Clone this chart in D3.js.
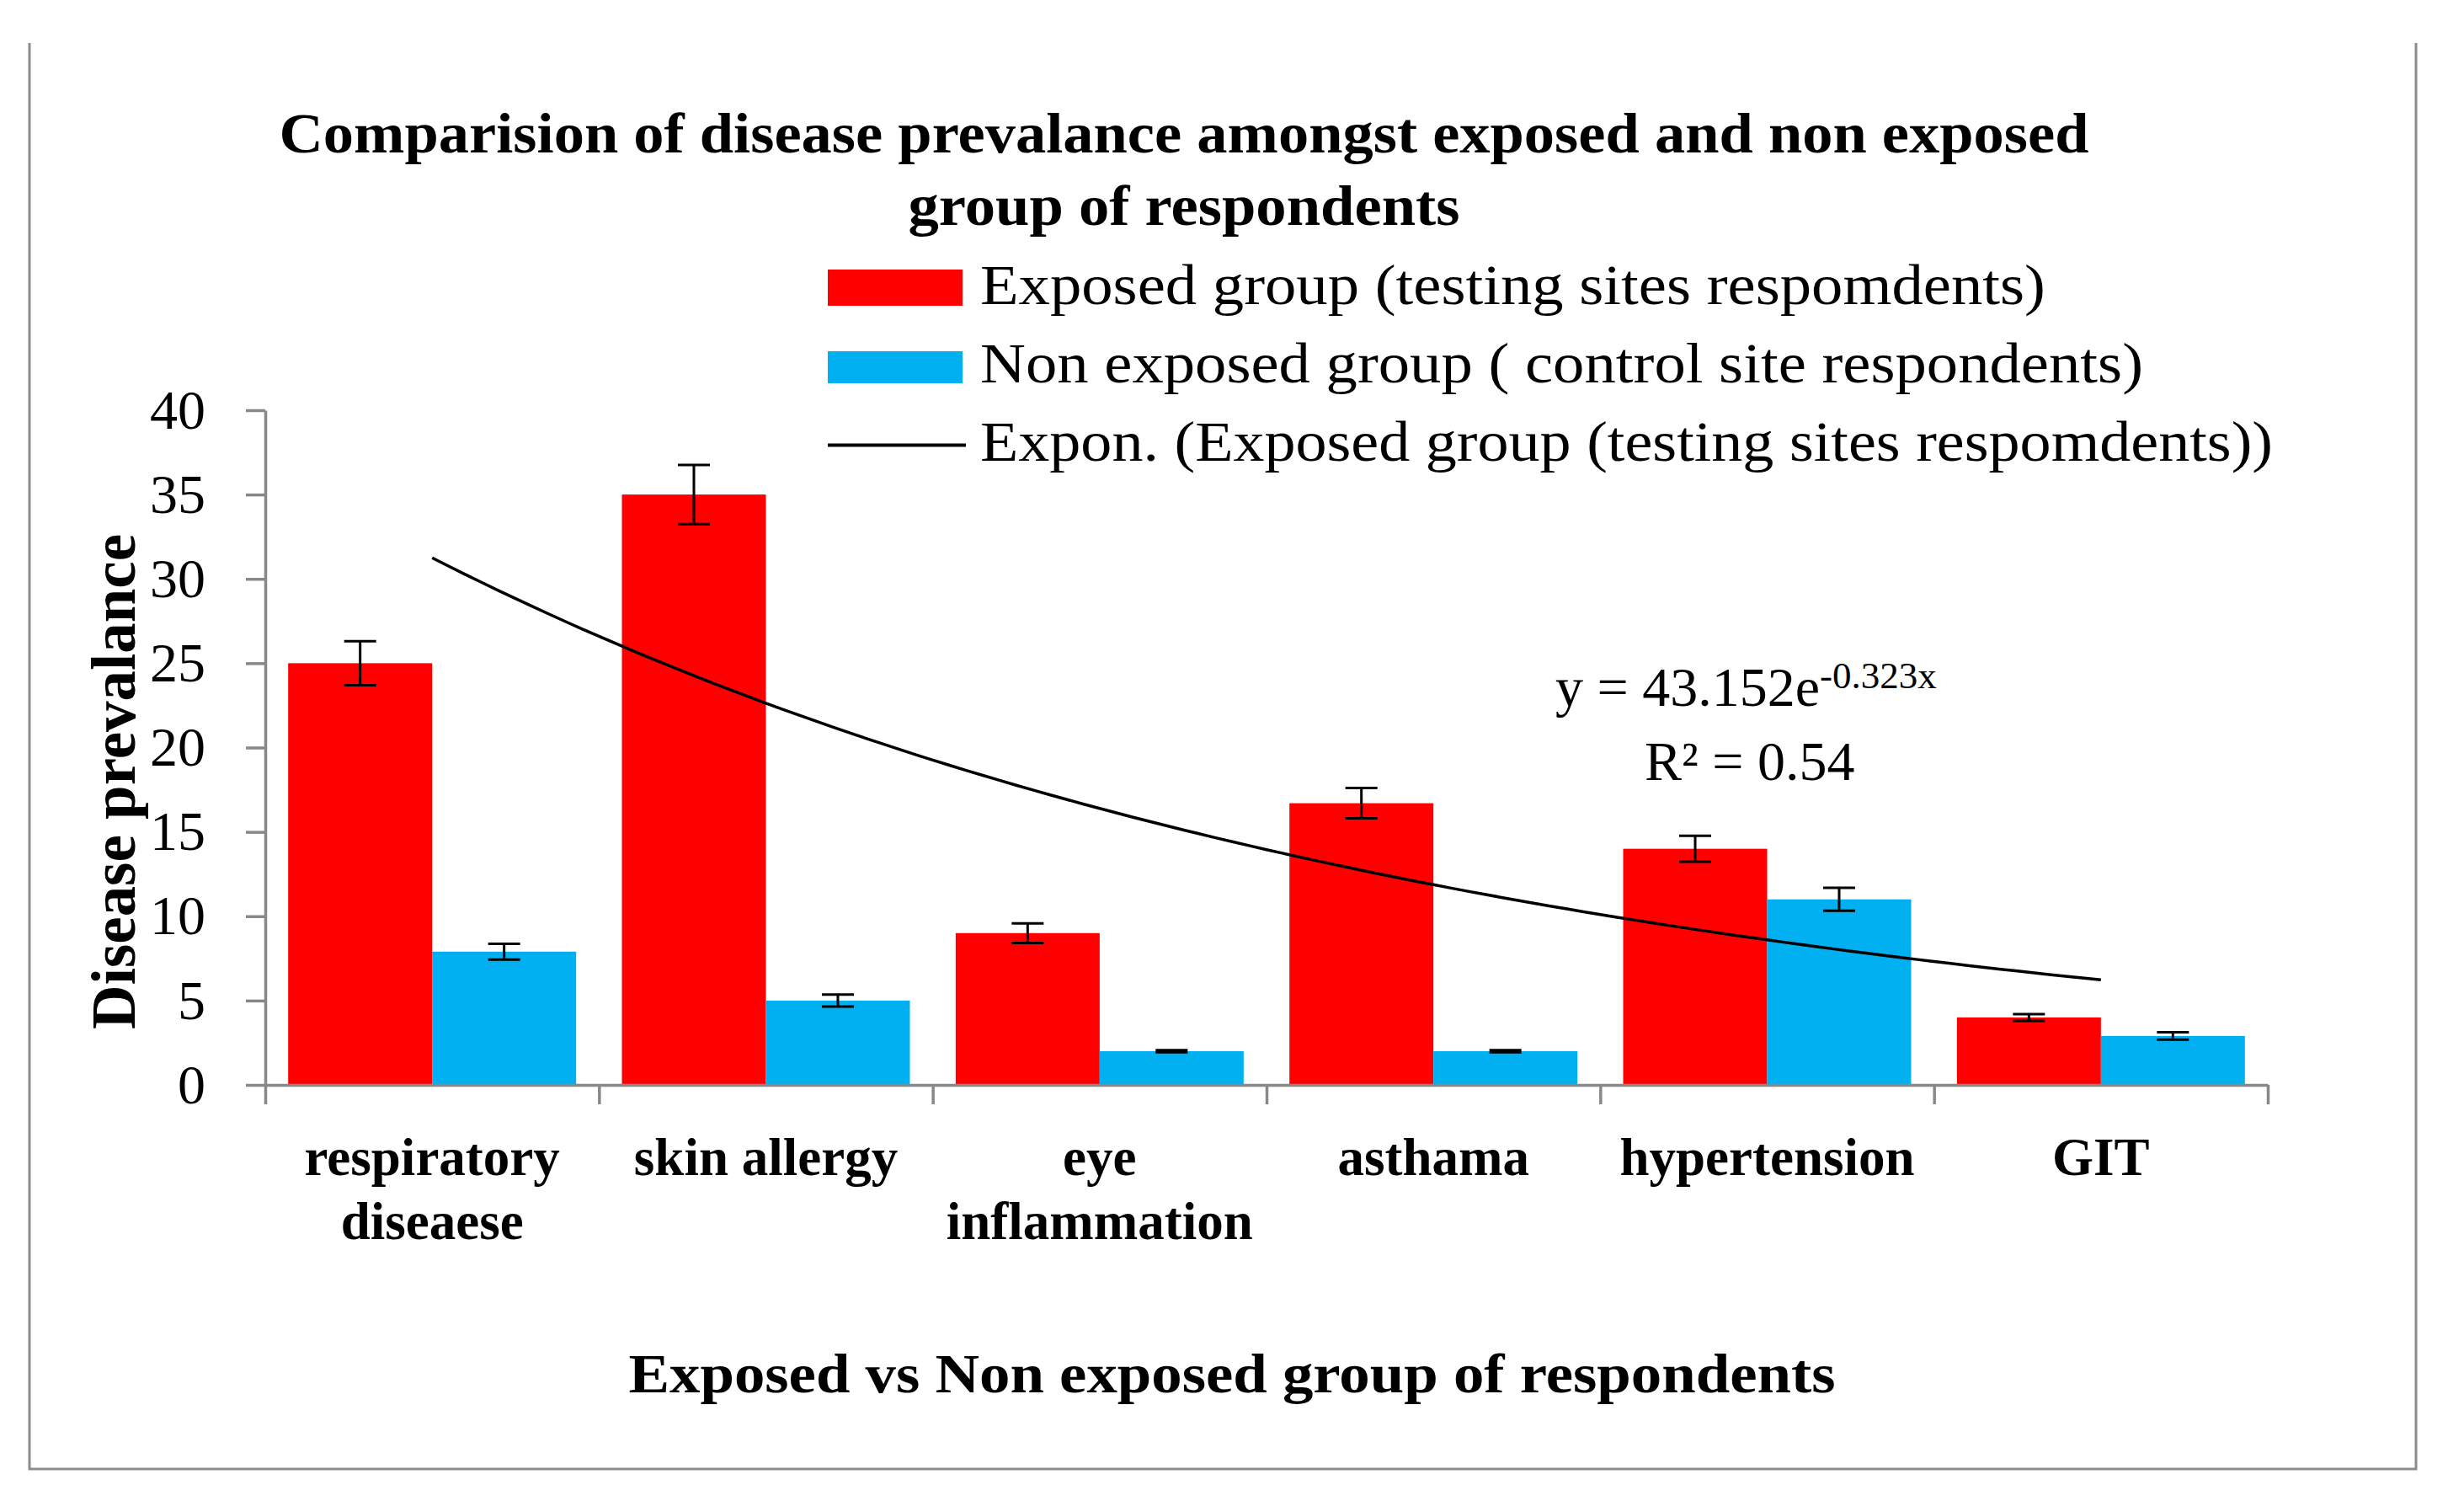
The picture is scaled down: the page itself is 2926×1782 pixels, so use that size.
<!DOCTYPE html>
<html>
<head>
<meta charset="utf-8">
<script src="https://cdn.jsdelivr.net/npm/d3@7"></script>
<style>
  body { margin: 0; background: #fff; }
  svg { display: block; }
</style>
</head>
<body>
<script>
// data
var categories = ["respiratory diseaese", "skin allergy", "eye inflammation", "asthama", "hypertension", "GIT"];
var categoryLines = [["respiratory", "diseaese"], ["skin allergy"], ["eye", "inflammation"], ["asthama"], ["hypertension"], ["GIT"]];
var exposed = [25, 35, 9, 16.7, 14, 4];
var exposedErr = [1.3, 1.75, 0.58, 0.9, 0.77, 0.2];
var nonExposed = [7.9, 5, 2, 2, 11, 2.9];
var nonExposedErr = [0.47, 0.36, 0.06, 0.06, 0.68, 0.22];
var yTicks = [0, 5, 10, 15, 20, 25, 30, 35, 40];

var seriesNames = ["Exposed group (testing sites respomdents)",
                   "Non exposed group ( control site respondents)",
                   "Expon. (Exposed group (testing sites respomdents))"];
var titleLines = ["Comparision of disease prevalance amongst exposed and non exposed",
                  "group of respondents"];
var xTitle = "Exposed vs Non exposed group of respondents";
var yTitle = "Disease prevalance";

var W = 2926, H = 1782;
var font = "'Liberation Serif', 'Times New Roman', serif";
var red = "#ff0000", blue = "#00b0f0", axisGrey = "#888888";

var svg = d3.select("body").append("svg")
    .attr("width", W)
    .attr("height", H)
    .style("font-family", font);

// outer frame (no top edge in the original)
svg.append("path")
    .attr("d", "M35,51V1744H2869V51")
    .attr("fill", "none")
    .attr("stroke", "#8c8c8c")
    .attr("stroke-width", 3);

var x = d3.scaleBand().domain(categories).range([315, 2693]);
var inner = d3.scaleBand().domain(["exp", "non"]).range([0, x.bandwidth()]).paddingOuter(0.159);
var y = d3.scaleLinear().domain([0, 40]).range([1288, 487]);

// title
svg.selectAll(".title").data(titleLines).enter().append("text")
    .attr("x", 1406)
    .attr("y", function(d, i) { return i === 0 ? 181 : 267; })
    .attr("text-anchor", "middle")
    .attr("font-weight", "bold")
    .attr("font-size", 68)
    .attr("textLength", function(d, i) { return i === 0 ? 2149 : 655; })
    .attr("lengthAdjust", "spacingAndGlyphs")
    .text(function(d) { return d; });

// bars
var groups = svg.selectAll(".cat").data(categories).enter().append("g")
    .attr("transform", function(d) { return "translate(" + x(d) + ",0)"; });

groups.append("rect")
    .attr("x", inner("exp"))
    .attr("width", inner.bandwidth())
    .attr("y", function(d, i) { return y(exposed[i]); })
    .attr("height", function(d, i) { return y(0) - y(exposed[i]); })
    .attr("fill", red);

groups.append("rect")
    .attr("x", inner("non"))
    .attr("width", inner.bandwidth())
    .attr("y", function(d, i) { return y(nonExposed[i]); })
    .attr("height", function(d, i) { return y(0) - y(nonExposed[i]); })
    .attr("fill", blue);

// error bars
function errorBar(sel, key, vals, errs) {
  var cx = inner(key) + inner.bandwidth() / 2, cap = 19;
  sel.append("path")
      .attr("d", function(d, i) {
        var top = y(vals[i] + errs[i]), bot = y(vals[i] - errs[i]);
        return "M" + (cx - cap) + "," + top + "H" + (cx + cap) +
               "M" + cx + "," + top + "V" + bot +
               "M" + (cx - cap) + "," + bot + "H" + (cx + cap);
      })
      .attr("fill", "none")
      .attr("stroke", "#000")
      .attr("stroke-width", 3);
}
errorBar(groups, "exp", exposed, exposedErr);
errorBar(groups, "non", nonExposed, nonExposedErr);

// exponential trendline fitted to the exposed series (log-linear least squares)
var idx = d3.range(1, exposed.length + 1);
var lny = exposed.map(Math.log);
var mx = d3.mean(idx), my = d3.mean(lny);
var b = d3.sum(idx, function(v, i) { return (v - mx) * (lny[i] - my); }) /
        d3.sum(idx, function(v) { return (v - mx) * (v - mx); });
var a = Math.exp(my - b * mx);
var xt = d3.scaleLinear().domain([1, exposed.length])
    .range([x(categories[0]) + x.bandwidth() / 2, x(categories[categories.length - 1]) + x.bandwidth() / 2]);
var trendPts = d3.range(1, exposed.length + 0.001, 0.05);
svg.append("path")
    .datum(trendPts)
    .attr("d", d3.line().x(function(t) { return xt(t); }).y(function(t) { return y(a * Math.exp(b * t)); }))
    .attr("fill", "none")
    .attr("stroke", "#000")
    .attr("stroke-width", 3.5);

// axes
var yAxis = svg.append("g")
    .attr("transform", "translate(315,0)")
    .call(d3.axisLeft(y).tickValues(yTicks).tickSize(23).tickSizeOuter(0).tickPadding(48));

var xb = d3.scaleLinear().domain([0, categories.length]).range(x.range());
var xAxis = svg.append("g")
    .attr("transform", "translate(0," + y(0) + ")")
    .call(d3.axisBottom(xb).tickValues(d3.range(categories.length + 1)).tickFormat("").tickSize(23).tickSizeOuter(0));

[yAxis, xAxis].forEach(function(g) {
  g.selectAll("path, line").attr("stroke", axisGrey).attr("stroke-width", 3.5);
  g.selectAll("text").attr("fill", "#000").attr("font-size", 66).attr("font-family", font);
});

// category labels
groups.append("text")
    .attr("text-anchor", "middle")
    .attr("font-weight", "bold")
    .attr("font-size", 63)
    .selectAll("tspan").data(function(d, i) { return categoryLines[i]; }).enter().append("tspan")
    .attr("x", x.bandwidth() / 2)
    .attr("y", function(d, j) { return 1395 + j * 76; })
    .text(function(d) { return d; });

// axis titles
svg.append("text")
    .attr("x", 1463)
    .attr("y", 1653)
    .attr("text-anchor", "middle")
    .attr("font-weight", "bold")
    .attr("font-size", 65)
    .attr("textLength", 1433)
    .attr("lengthAdjust", "spacingAndGlyphs")
    .text(xTitle);

svg.append("text")
    .attr("transform", "translate(160,928) rotate(-90)")
    .attr("text-anchor", "middle")
    .attr("font-weight", "bold")
    .attr("font-size", 73)
    .attr("textLength", 588)
    .attr("lengthAdjust", "spacingAndGlyphs")
    .text(yTitle);

// legend
var legendRows = [
  { y: 341.5, base: 361, len: 1265, kind: "rect", color: red, h: 43 },
  { y: 436, base: 454, len: 1381, kind: "rect", color: blue, h: 38 },
  { y: 528.5, base: 547, len: 1535, kind: "line", color: "#000" }
];
var legend = svg.selectAll(".leg").data(legendRows).enter().append("g");
legend.each(function(d) {
  var g = d3.select(this);
  if (d.kind === "rect") {
    g.append("rect").attr("x", 983).attr("y", d.y - d.h / 2)
        .attr("width", 160).attr("height", d.h).attr("fill", d.color);
  } else {
    g.append("line").attr("x1", 983).attr("x2", 1147).attr("y1", d.y).attr("y2", d.y)
        .attr("stroke", d.color).attr("stroke-width", 4);
  }
});
legend.append("text")
    .attr("x", 1164)
    .attr("y", function(d) { return d.base; })
    .attr("font-size", 68)
    .attr("textLength", function(d) { return d.len; })
    .attr("lengthAdjust", "spacingAndGlyphs")
    .text(function(d, i) { return seriesNames[i]; });

// trendline equation
var eq = svg.append("text")
    .attr("x", 1847)
    .attr("y", 838)
    .attr("font-size", 66);
eq.append("tspan").text("y = 43.152e");
eq.append("tspan").attr("font-size", 45).attr("dy", -21).text("-0.323x");

svg.append("text")
    .attr("x", 1953)
    .attr("y", 926)
    .attr("font-size", 66)
    .text("R\u00b2 = 0.54");
</script>
</body>
</html>
